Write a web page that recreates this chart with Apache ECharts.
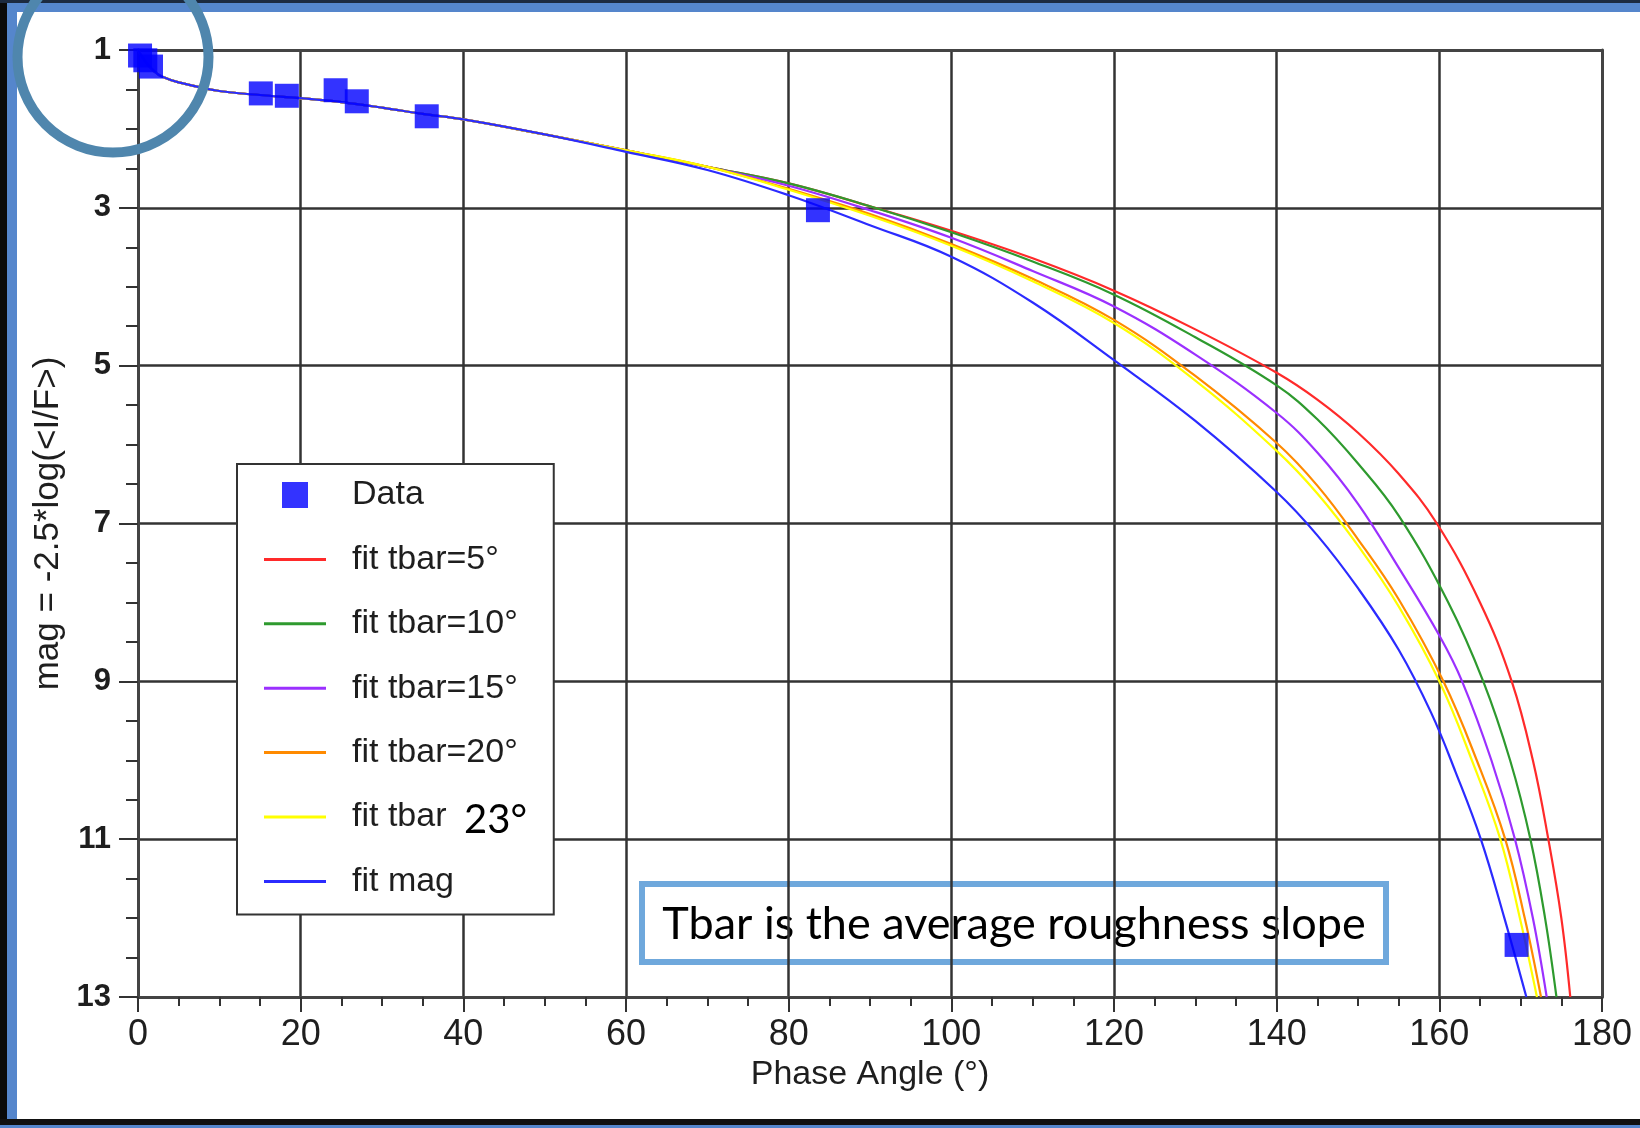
<!DOCTYPE html>
<html><head><meta charset="utf-8">
<style>html,body{margin:0;padding:0;background:#fff}#c{width:1640px;height:1128px}</style>
<script src="https://cdn.jsdelivr.net/npm/echarts@6/dist/echarts.min.js"></script>
</head><body><div id="c"></div>
<script>
// ---- data ----
const xTicks = [0, 20, 40, 60, 80, 100, 120, 140, 160, 180];
const yTicks = [1, 3, 5, 7, 9, 11, 13];

const dataX = [0.25, 0.9, 1.6, 15.1, 18.3, 24.3, 26.9, 35.5, 83.6, 169.5];
const dataY = [1.07, 1.13, 1.21, 1.55, 1.58, 1.51, 1.65, 1.84, 3.03, 12.34];

// shared part of all fits (low phase angles)
const commonX = [0, 1, 2, 3, 5, 10, 15, 20, 25, 30, 35, 40, 50, 60, 70];
const commonY = [1.00, 1.16, 1.27, 1.34, 1.41, 1.52, 1.57, 1.61, 1.66, 1.73, 1.81, 1.88, 2.07, 2.27, 2.48];

const redX = [80, 90, 100, 110, 120, 130, 140, 145, 150, 155, 159.7, 165.0, 168.9, 171.5, 173.4, 175.0, 176.1];
const redY = [2.69, 2.98, 3.29, 3.64, 4.05, 4.54, 5.09, 5.43, 5.85, 6.37, 7.00, 8.00, 9.00, 10.0, 11.0, 12.0, 13.0];

const greenX = [80, 90, 100, 110, 120, 130, 140, 145, 150, 155, 161.1, 165.4, 168.7, 171.2, 173.0, 174.4];
const greenY = [2.69, 2.98, 3.31, 3.68, 4.10, 4.64, 5.25, 5.68, 6.24, 6.90, 8.00, 9.00, 10.0, 11.0, 12.0, 13.0];

const purpleX = [80, 90, 100, 110, 120, 130, 140, 145, 150, 155, 160, 162.8, 166.4, 169.3, 171.5, 173.2];
const purpleY = [2.72, 3.03, 3.38, 3.80, 4.25, 4.86, 5.60, 6.10, 6.75, 7.56, 8.42, 9.00, 10.0, 11.0, 12.0, 13.0];

const orangeX = [80, 90, 100, 110, 120, 130, 140, 145, 150, 155, 160.5, 164.6, 168.1, 170.5, 172.5];
const orangeY = [2.76, 3.08, 3.46, 3.90, 4.42, 5.13, 5.98, 6.52, 7.20, 7.96, 9.00, 10.0, 11.0, 12.0, 13.0];

const yellowX = [80, 90, 100, 110, 120, 130, 140, 145, 150, 155, 160, 164, 167.5, 169.9, 172.0];
const yellowY = [2.77, 3.10, 3.48, 3.93, 4.46, 5.19, 6.08, 6.62, 7.28, 8.05, 9.00, 10.0, 11.0, 12.0, 13.0];

const blueX = [60, 70, 80, 90, 100, 110, 120, 130, 140, 145, 150, 155, 159, 162, 165.1, 168.0, 170.7];
const blueY = [2.29, 2.52, 2.84, 3.22, 3.62, 4.20, 4.93, 5.70, 6.60, 7.15, 7.82, 8.60, 9.40, 10.15, 11.0, 12.0, 13.0];

const seriesNames = ['Data', 'fit tbar=5°', 'fit tbar=10°', 'fit tbar=15°', 'fit tbar=20°', 'fit tbar', 'fit mag'];
const overlayLabel = '23°';
const lineColors = ['#FF2A2A', '#2E9A2E', '#9B30FF', '#FF8A00', '#FFFF00', '#2B2BFF'];

// ---- build ----
const pts = (xs, ys) => xs.map((x, i) => [x, ys[i]]);
const fits = [
  pts(commonX.concat(redX), commonY.concat(redY)),
  pts(commonX.concat(greenX), commonY.concat(greenY)),
  pts(commonX.concat(purpleX), commonY.concat(purpleY)),
  pts(commonX.concat(orangeX), commonY.concat(orangeY)),
  pts(commonX.concat(yellowX), commonY.concat(yellowY)),
  pts(commonX.slice(0, 13).concat(blueX), commonY.slice(0, 13).concat(blueY))
];

const textCol = '#1e1e1e';
const gridCol = '#333';
const frameBlue = '#5586CC';
const sansFont = "'Liberation Sans', Arial, sans-serif";

const chart = echarts.init(document.getElementById('c'), null, {renderer: 'canvas', width: 1640, height: 1128});

const lineSeries = fits.map((d, i) => ({
  name: seriesNames[i + 1],
  type: 'line',
  data: d,
  showSymbol: false,
  symbol: 'none',
  smooth: 0.4,
  clip: true,
  lineStyle: {color: lineColors[i], width: 2.2},
  itemStyle: {color: lineColors[i]},
  z: 3 + i,
  silent: true
}));

const lineIcon = 'path://M0,0L62,0L62,3L0,3Z';

chart.setOption({
  animation: false,
  backgroundColor: '#fff',
  grid: {left: 138, right: 38, top: 50, bottom: 131, containLabel: false, outerBoundsMode: 'none'},
  xAxis: [{
    type: 'value', min: xTicks[0], max: xTicks[xTicks.length - 1], interval: xTicks[1] - xTicks[0],
    position: 'bottom',
    name: 'Phase Angle (°)', nameLocation: 'middle', nameGap: 58,
    nameTextStyle: {fontSize: 34, color: textCol, fontFamily: sansFont},
    axisLine: {show: true, onZero: false, lineStyle: {color: '#444', width: 3}},
    axisTick: {show: true, inside: false, length: 15, lineStyle: {color: gridCol, width: 2}},
    minorTick: {show: true, splitNumber: 4, length: 9, lineStyle: {color: gridCol, width: 2}},
    axisLabel: {margin: 20, fontSize: 36, color: textCol, fontFamily: sansFont},
    splitLine: {show: true, lineStyle: {color: gridCol, width: 2.5}},
    minorSplitLine: {show: false}
  }, {
    type: 'value', min: 0, max: 180, position: 'top',
    axisLine: {show: true, onZero: false, lineStyle: {color: '#444', width: 3}},
    axisTick: {show: false}, axisLabel: {show: false}, splitLine: {show: false}
  }],
  yAxis: [{
    type: 'value', min: yTicks[0], max: yTicks[yTicks.length - 1], interval: yTicks[1] - yTicks[0],
    inverse: true, position: 'left',
    name: 'mag = -2.5*log(<I/F>)', nameLocation: 'middle', nameGap: 71,
    nameTextStyle: {fontSize: 35, color: textCol, fontFamily: sansFont},
    axisLine: {show: true, onZero: false, lineStyle: {color: '#444', width: 3}},
    axisTick: {show: true, inside: false, length: 19, lineStyle: {color: gridCol, width: 2}},
    minorTick: {show: true, splitNumber: 4, length: 12, lineStyle: {color: gridCol, width: 2}},
    axisLabel: {margin: 27, fontSize: 31, fontWeight: 'bold', color: textCol, fontFamily: sansFont},
    splitLine: {show: true, lineStyle: {color: gridCol, width: 2.5}}
  }, {
    type: 'value', min: 1, max: 13, inverse: true, position: 'right',
    axisLine: {show: true, onZero: false, lineStyle: {color: '#444', width: 3}},
    axisTick: {show: false}, axisLabel: {show: false}, splitLine: {show: false}
  }],
  legend: {
    orient: 'vertical', left: 237, top: 464,
    selectedMode: false,
    data: [{name: 'Data', icon: 'path://M0,0L10,0L10,10L0,10Z'}].concat(
      seriesNames.slice(1).map(n => ({name: n, icon: lineIcon}))),
    itemWidth: 62, itemHeight: 26, itemGap: 30.4,
    padding: [14, 36, 16, 27],
    borderColor: '#333', borderWidth: 2, backgroundColor: '#fff',
    textStyle: {fontSize: 34, color: textCol, fontFamily: sansFont, lineHeight: 34, padding: [0, 0, 0, 21]},
    z: 20
  },
  series: [{
    name: 'Data', type: 'scatter', data: pts(dataX, dataY),
    symbol: 'rect', symbolSize: 24, itemStyle: {color: '#0000FF'}, z: 12, silent: true
  }].concat(lineSeries),
  graphic: [
    {type: 'rect', z: 50, shape: {x: 0, y: 0, width: 7, height: 1128}, style: {fill: '#0a0a0a'}},
    {type: 'rect', z: 50, shape: {x: 7, y: 0, width: 10, height: 1128}, style: {fill: frameBlue}},
    {type: 'rect', z: 50, shape: {x: 0, y: 0, width: 1640, height: 3}, style: {fill: '#1c2a40'}},
    {type: 'rect', z: 50, shape: {x: 7, y: 3, width: 1633, height: 9}, style: {fill: frameBlue}},
    {type: 'rect', z: 50, shape: {x: 0, y: 1119, width: 1640, height: 6}, style: {fill: '#111'}},
    {type: 'rect', z: 50, shape: {x: 0, y: 1125, width: 1640, height: 3}, style: {fill: frameBlue}},
    {type: 'text', z: 60, x: 464, y: 820, style: {text: overlayLabel, fontSize: 40, fontFamily: 'Lato, sans-serif', fill: '#000', align: 'left', verticalAlign: 'middle'}},
    {type: 'group', z: 60, children: [
      {type: 'rect', shape: {x: 642, y: 884, width: 744, height: 78}, style: {fill: '#fff', stroke: '#6FA8DC', lineWidth: 6}},
      {type: 'text', x: 1014, y: 924, style: {text: 'Tbar is the average roughness slope', fontSize: 45, fontFamily: 'Lato, sans-serif', fill: '#000', align: 'center', verticalAlign: 'middle'}}
    ]},
    {type: 'circle', z: 70, shape: {cx: 113, cy: 57, r: 95.5}, style: {fill: 'none', stroke: '#4F86AD', lineWidth: 10}}
  ]
});
</script></body></html>
